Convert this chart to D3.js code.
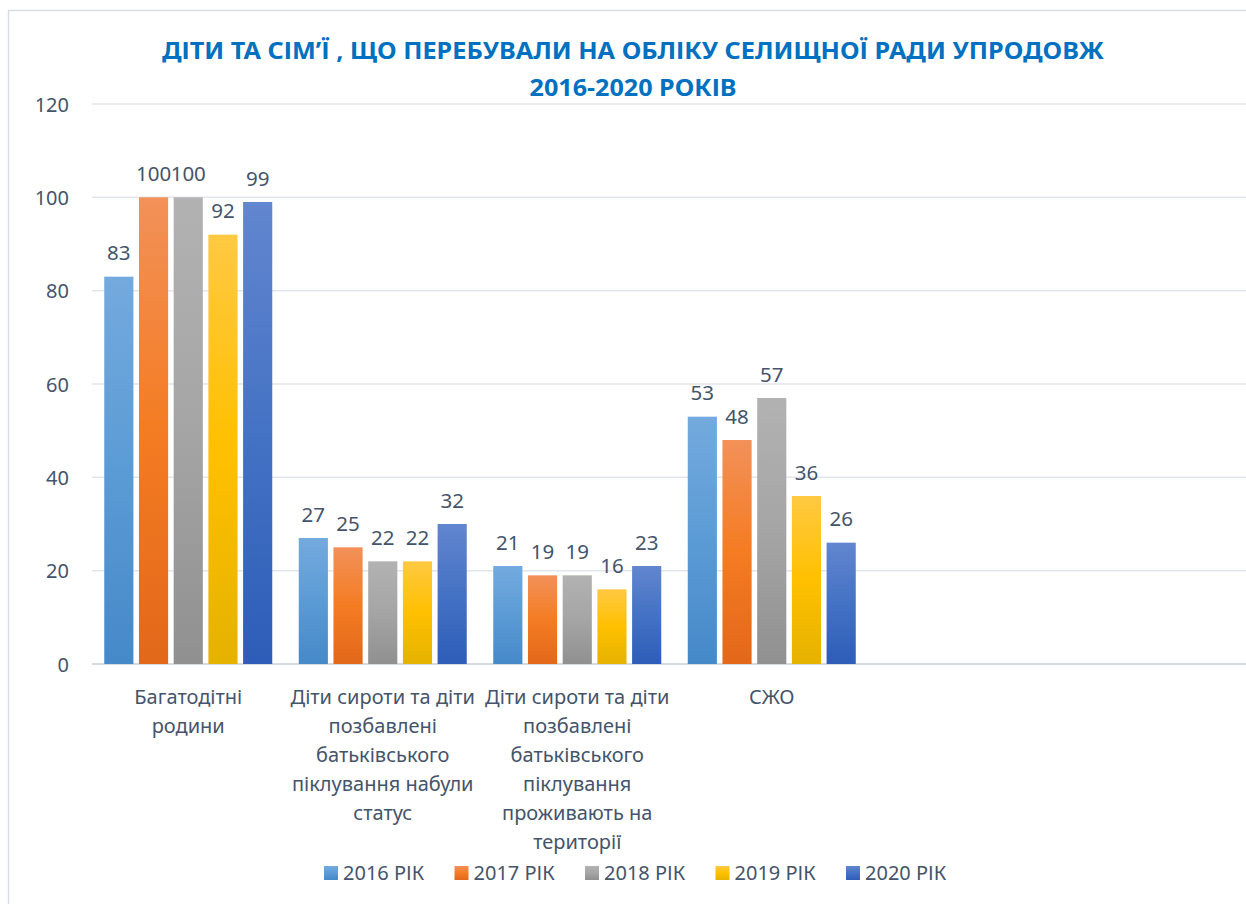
<!DOCTYPE html>
<html>
<head>
<meta charset="utf-8">
<script src="https://cdn.jsdelivr.net/npm/d3@7"></script>
<style>
  html, body { margin: 0; padding: 0; background: #fff; }
  svg { display: block; font-family: "Noto Sans", "Open Sans", sans-serif; }
</style>
</head>
<body>
<div id="container"></div>
<script>
'use strict'

// categories, as they are wrapped under the axis
const categories = ["Багатодітні родини",
                    "Діти сироти та діти позбавлені батьківського піклування набули статус",
                    "Діти сироти та діти позбавлені батьківського піклування проживають на території",
                    "СЖО"];
const categoryLines = [["Багатодітні", "родини"],
                       ["Діти сироти та діти", "позбавлені", "батьківського", "піклування набули", "статус"],
                       ["Діти сироти та діти", "позбавлені", "батьківського", "піклування", "проживають на", "території"],
                       ["СЖО"]];
// two empty slots at the right, the axis in the original keeps them
const emptySlots = ["e1", "e2"];

const seriesNames = ["2016 РІК", "2017 РІК", "2018 РІК", "2019 РІК", "2020 РІК"];
const v2016 = [83, 27, 21, 53];
const v2017 = [100, 25, 19, 48];
const v2018 = [100, 22, 19, 57];
const v2019 = [92, 22, 16, 36];
const v2020 = [99, 30, 21, 26];
// printed labels of 2020 differ from the bar heights in the original
const labels2020 = [99, 32, 23, 26];
const yTicks = [0, 20, 40, 60, 80, 100, 120];

const w = 1246, h = 904;
const svg = d3.select("#container").append("svg").attr("width", w).attr("height", h);

const colors = [
  ["#74AADE", "#5B9BD5", "#4689C9"],
  ["#F29159", "#F47C22", "#E2681A"],
  ["#B2B2B2", "#A5A5A5", "#909090"],
  ["#FFC942", "#FFC000", "#E5B200"],
  ["#6286CF", "#4472C4", "#2D5DB8"]
];
const defs = svg.append("defs");
colors.forEach((c, i) => {
  const g = defs.append("linearGradient").attr("id", "g" + i)
    .attr("x1", 0).attr("y1", 0).attr("x2", 0).attr("y2", 1);
  g.append("stop").attr("offset", "0%").attr("stop-color", c[0]);
  g.append("stop").attr("offset", "50%").attr("stop-color", c[1]);
  g.append("stop").attr("offset", "100%").attr("stop-color", c[2]);
});

// chart frame
svg.append("rect").attr("x", 8.5).attr("y", 10.5).attr("width", 1300).attr("height", 1000)
   .attr("fill", "none").attr("stroke", "#D9DDE3").attr("stroke-width", 1.5);

//Scales
const left = 91, bandW = 194.5;
const x0 = d3.scaleBand().domain(categories.concat(emptySlots))
             .range([left, left + 6 * bandW]).paddingInner(0).paddingOuter(0);
const x1 = d3.scaleBand().domain(seriesNames).range([13.25, bandW - 13.25]).paddingInner(0.16);
const y = d3.scaleLinear().domain([0, 120]).range([664, 104]);

// grid
svg.append("g").selectAll("line").data(yTicks).enter().append("line")
   .attr("x1", left + 1).attr("x2", left + 6 * bandW)
   .attr("y1", d => y(d)).attr("y2", d => y(d))
   .attr("stroke", d => d === 0 ? "#D6DAE1" : "#E2E5EB")
   .attr("stroke-width", d => d === 0 ? 2 : 1.5);

// y axis labels
const yAxis = d3.axisLeft(y).tickValues(yTicks).tickSize(0).tickPadding(0);
const ya = svg.append("g").attr("transform", "translate(69,0)").call(yAxis);
ya.select(".domain").remove();
ya.selectAll("text").attr("fill", "#44546A").style("font-size", "20px")
  .style("font-family", "'Noto Sans', sans-serif").attr("dy", "0.36em");

// bars
const rows = categories.map((c, i) => ({
  cat: c,
  vals: [v2016[i], v2017[i], v2018[i], v2019[i], v2020[i]],
  labs: [v2016[i], v2017[i], v2018[i], v2019[i], labels2020[i]]
}));

const groups = svg.append("g").selectAll("g").data(rows).enter().append("g")
   .attr("transform", d => "translate(" + x0(d.cat) + ",0)");

groups.selectAll("rect")
   .data(d => d.vals.map((v, k) => ({ s: seriesNames[k], k: k, v: v })))
   .enter().append("rect")
   .attr("x", d => x1(d.s)).attr("width", x1.bandwidth())
   .attr("y", d => y(d.v)).attr("height", d => y(0) - y(d.v))
   .attr("fill", d => "url(#g" + d.k + ")");

groups.selectAll("text")
   .data(d => d.labs.map((l, k) => ({ s: seriesNames[k], l: l, v: d.vals[k] })))
   .enter().append("text")
   .attr("x", d => x1(d.s) + x1.bandwidth() / 2)
   .attr("y", d => y(d.v) - 16.5)
   .attr("text-anchor", "middle").attr("fill", "#44546A")
   .style("font-size", "20.5px")
   .text(d => d.l);

// category labels
categories.forEach((c, i) => {
  const t = svg.append("text").attr("text-anchor", "middle").attr("fill", "#44546A")
     .style("font-size", "20px");
  categoryLines[i].forEach((ln, j) => {
    t.append("tspan").attr("x", x0(c) + bandW / 2).attr("y", 704 + j * 29).text(ln);
  });
});

//Title
svg.append("text").text("ДІТИ ТА СІМ’Ї , ЩО ПЕРЕБУВАЛИ НА ОБЛІКУ СЕЛИЩНОЇ РАДИ УПРОДОВЖ")
   .attr("x", 633).attr("y", 59).attr("text-anchor", "middle")
   .attr("fill", "#0070C0").style("font-size", "24px").style("font-weight", "700")
   .attr("textLength", 942).attr("lengthAdjust", "spacingAndGlyphs");
svg.append("text").text("2016-2020 РОКІВ")
   .attr("x", 633).attr("y", 96).attr("text-anchor", "middle")
   .attr("fill", "#0070C0").style("font-size", "24px").style("font-weight", "700")
   .attr("textLength", 207).attr("lengthAdjust", "spacingAndGlyphs");

// legend
const lg = svg.append("g").selectAll("g").data(seriesNames).enter().append("g")
   .attr("transform", (d, i) => "translate(" + (324 + i * 130.5) + ",866)");
lg.append("rect").attr("width", 14).attr("height", 14).attr("fill", (d, i) => "url(#g" + i + ")");
lg.append("text").attr("x", 19).attr("y", 14).attr("fill", "#44546A")
  .style("font-size", "20px").text(d => d);
</script>
</body>
</html>
